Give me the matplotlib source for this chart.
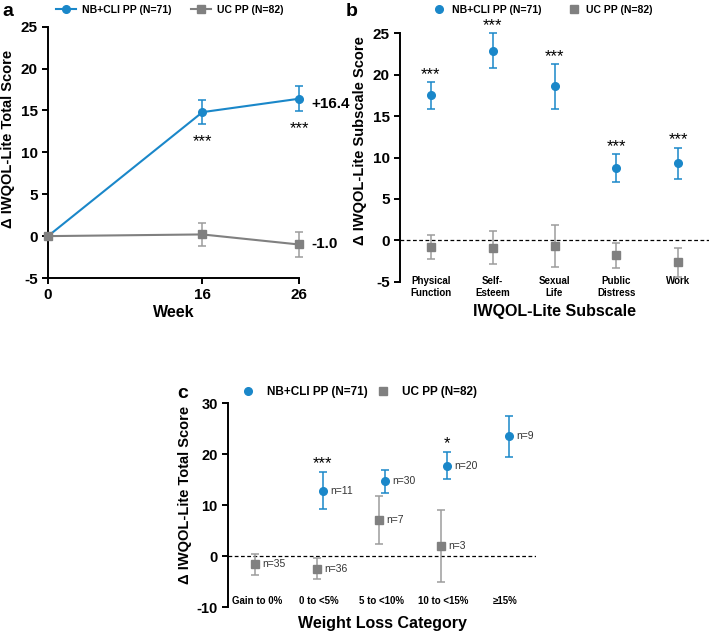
import numpy as np
import matplotlib.pyplot as plt
from matplotlib.lines import Line2D

plt.rcParams['font.family'] = ['Liberation Sans', 'DejaVu Sans']
plt.rcParams['axes.unicode_minus'] = False

BLUE = '#1a87c9'
GREY = '#808080'
GREY_ERR = '#9c9c9c'

# panel a - total score over time
weeks = [0, 16, 26]
nb_total = [0.0, 14.8, 16.4]
nb_total_err = [0.0, 1.4, 1.5]
uc_total = [0.0, 0.2, -1.0]
uc_total_err = [0.0, 1.4, 1.45]
total_sig = ['', '***', '***']

# panel b - subscales
subscales = ['Physical\nFunction', 'Self-\nEsteem', 'Sexual\nLife', 'Public\nDistress', 'Work']
nb_sub = [17.5, 22.9, 18.6, 8.7, 9.3]
nb_sub_err = [1.6, 2.1, 2.7, 1.7, 1.9]
uc_sub = [-0.8, -0.9, -0.7, -1.8, -2.65]
uc_sub_err = [1.5, 2.0, 2.5, 1.5, 1.75]
sub_sig = ['***', '***', '***', '***', '***']

# panel c - weight loss category
wl_cats = ['Gain to 0%', '0 to <5%', '5 to <10%', '10 to <15%', '\u226515%']
nb_wl = [np.nan, 12.9, 14.7, 17.8, 23.5]
nb_wl_err = [np.nan, 3.7, 2.3, 2.7, 4.0]
nb_wl_n = [None, 11, 30, 20, 9]
uc_wl = [-1.6, -2.4, 7.2, 2.0, np.nan]
uc_wl_err = [2.1, 2.0, 4.7, 7.0, np.nan]
uc_wl_n = [35, 36, 7, 3, None]
wl_sig = ['', '***', '', '*', '']

W, H = 709, 632
fig = plt.figure(figsize=(W / 100, H / 100), dpi=100)


def add_axes(l, t, r, b):
    return fig.add_axes([l / W, 1 - b / H, (r - l) / W, (b - t) / H])


def style(ax, fs):
    for s in ['top', 'right']:
        ax.spines[s].set_visible(False)
    ax.spines['left'].set_linewidth(1.4)
    ax.spines['bottom'].set_linewidth(1.4)
    ax.tick_params(width=1.4, length=4, labelsize=fs)
    for lab in ax.get_yticklabels() + ax.get_xticklabels():
        lab.set_fontweight('bold')


eb = dict(capsize=3, elinewidth=1.1, capthick=1.1, ms=5.5, clip_on=False)
STAR = 12

# ---------------- a ----------------
ax = add_axes(48, 26.7, 299, 278)
ax.errorbar(weeks, uc_total, yerr=uc_total_err, color=GREY, ecolor=GREY_ERR, marker='s',
            lw=1.5, zorder=4, **eb)
ax.errorbar(weeks, nb_total, yerr=nb_total_err, color=BLUE, marker='o', lw=1.5, zorder=3, **eb)
for x, y, e, s in zip(weeks, nb_total, nb_total_err, total_sig):
    if s:
        ax.text(x, y - e - 2.1, s, ha='center', va='center', fontsize=STAR)
ax.text(weeks[-1] + 1.3, nb_total[-1] - 0.6, '+%.1f' % nb_total[-1], fontsize=11,
        fontweight='bold', va='center', ha='left')
ax.text(weeks[-1] + 1.3, uc_total[-1], '%.1f' % uc_total[-1], fontsize=11,
        fontweight='bold', va='center', ha='left')
ax.set_xlim(0, 26)
ax.set_ylim(-5, 25)
ax.set_xticks(weeks)
ax.set_yticks(range(-5, 26, 5))
style(ax, 11)
ax.set_xlabel('Week', fontsize=11.5, fontweight='bold')
ax.xaxis.set_label_coords(0.5, -0.108)
ax.set_ylabel('\u0394 IWQOL-Lite Total Score', fontsize=10.5, fontweight='bold')
ax.yaxis.set_label_coords(-0.13, 0.555)
h = [Line2D([], [], color=BLUE, marker='o', ms=5.5, lw=1.5),
     Line2D([], [], color=GREY, marker='s', ms=5.5, lw=1.5)]
ax.legend(h, ['NB+CLI PP (N=71)', 'UC PP (N=82)'], ncol=2, frameon=False,
          loc='center left', bbox_to_anchor=(56 / W, 1 - 10 / H),
          bbox_transform=fig.transFigure, borderpad=0, borderaxespad=0,
          handlelength=1.9, handletextpad=0.6, columnspacing=1.9,
          prop={'size': 7.5, 'weight': 'bold'})
fig.text(8 / W, 1 - 12 / H, 'a', fontsize=14, fontweight='bold', va='center', ha='center')

# ---------------- b ----------------
ax = add_axes(400, 33.3, 709, 281.7)
xs = np.arange(len(subscales))
ax.axhline(0, color='black', lw=0.9, ls=(0, (3, 2)), zorder=1)
ax.errorbar(xs, uc_sub, yerr=uc_sub_err, color=GREY, ecolor=GREY_ERR, marker='s', ls='none',
            zorder=3, **eb)
ax.errorbar(xs, nb_sub, yerr=nb_sub_err, color=BLUE, marker='o', ls='none', zorder=3, **eb)
for x, y, e, s in zip(xs, nb_sub, nb_sub_err, sub_sig):
    ax.text(x, y + e + 0.9, s, ha='center', va='center', fontsize=STAR)
ax.set_xlim(-0.5, 4.5)
ax.set_ylim(-5, 25)
ax.set_yticks(range(-5, 26, 5))
ax.set_xticks(xs)
ax.set_xticklabels(subscales, fontsize=7)
style(ax, 11)
ax.spines['bottom'].set_visible(False)
ax.tick_params(axis='x', length=0, pad=-4, labelsize=7)
ax.set_xlabel('IWQOL-Lite Subscale', fontsize=11.5, fontweight='bold')
ax.xaxis.set_label_coords(0.5, -0.09)
ax.set_ylabel('\u0394 IWQOL-Lite Subscale Score', fontsize=10.5, fontweight='bold')
ax.yaxis.set_label_coords(-0.107, 0.57)
h = [Line2D([], [], color=BLUE, marker='o', ms=5.5, ls='none'),
     Line2D([], [], color=GREY, marker='s', ms=5.5, ls='none')]
ax.legend(h, ['NB+CLI PP (N=71)', 'UC PP (N=82)'], ncol=2, frameon=False,
          loc='center left', bbox_to_anchor=(434 / W, 1 - 10 / H),
          bbox_transform=fig.transFigure, borderpad=0, borderaxespad=0,
          handlelength=1.0, handletextpad=0.7, columnspacing=2.6,
          prop={'size': 7.5, 'weight': 'bold'})
fig.text(352 / W, 1 - 12 / H, 'b', fontsize=14, fontweight='bold', va='center', ha='center')

# ---------------- c ----------------
ax = add_axes(228, 403.3, 536, 607.3)
xs = np.arange(len(wl_cats))
ax.axhline(0, color='black', lw=0.9, ls=(0, (3, 2)), zorder=1)
ax.errorbar(xs - 0.04, uc_wl, yerr=uc_wl_err, color=GREY, ecolor=GREY_ERR, marker='s',
            ls='none', zorder=3, **eb)
ax.errorbar(xs + 0.06, nb_wl, yerr=nb_wl_err, color=BLUE, marker='o', ls='none', zorder=3, **eb)
for x, y, n in zip(xs, nb_wl, nb_wl_n):
    if n is not None:
        ax.text(x + 0.06 + 0.12, y, 'n=%d' % n, fontsize=7.5, va='center', color='#333333')
for x, y, n in zip(xs, uc_wl, uc_wl_n):
    if n is not None:
        ax.text(x - 0.04 + 0.12, y, 'n=%d' % n, fontsize=7.5, va='center', color='#333333')
for x, y, e, s in zip(xs, nb_wl, nb_wl_err, wl_sig):
    if s:
        ax.text(x + 0.06, y + e + 1.5, s, ha='center', va='center', fontsize=STAR)
ax.set_xlim(-0.47, 4.5)
ax.set_ylim(-10, 30)
ax.set_yticks(range(-10, 31, 10))
ax.set_xticks(xs)
ax.set_xticklabels(wl_cats)
style(ax, 10.5)
ax.spines['bottom'].set_visible(False)
ax.tick_params(axis='x', length=0, pad=-8, labelsize=7)
ax.set_xlabel('Weight Loss Category', fontsize=11.5, fontweight='bold')
ax.xaxis.set_label_coords(0.5, -0.045)
ax.set_ylabel('\u0394 IWQOL-Lite Total Score', fontsize=10.5, fontweight='bold')
ax.yaxis.set_label_coords(-0.117, 0.55)
ax.legend(h, ['NB+CLI PP (N=71)', 'UC PP (N=82)'], ncol=2, frameon=False,
          loc='center left', bbox_to_anchor=(242 / W, 1 - 392 / H),
          bbox_transform=fig.transFigure, borderpad=0, borderaxespad=0,
          handlelength=1.0, handletextpad=1.1, columnspacing=0.85,
          prop={'size': 8.5, 'weight': 'bold'})
fig.text(183 / W, 1 - 393 / H, 'c', fontsize=14, fontweight='bold', va='center', ha='center')

plt.savefig('out.png', dpi=100)
